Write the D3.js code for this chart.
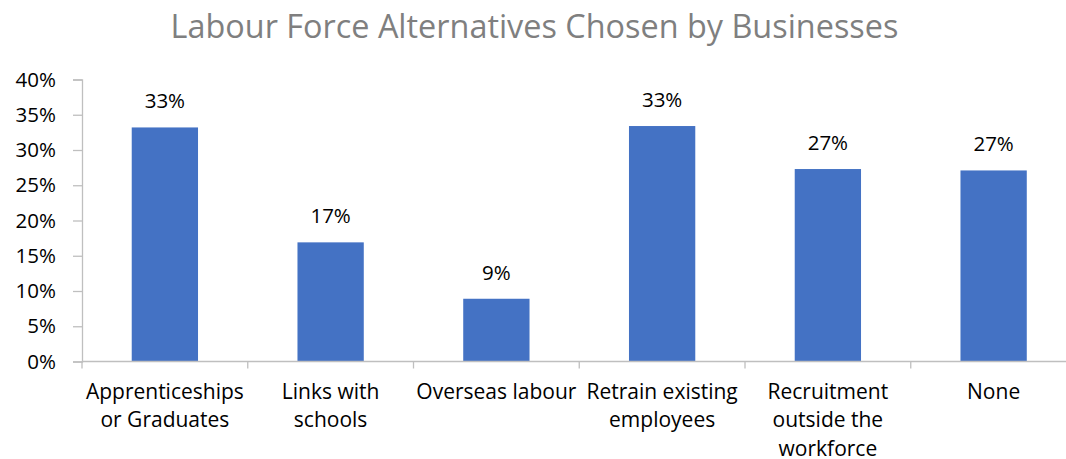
<!DOCTYPE html>
<html>
<head>
<meta charset="utf-8">
<script src="https://cdn.jsdelivr.net/npm/d3@7"></script>
<style>
  html, body { margin: 0; padding: 0; background: #fff; }
  svg { display: block; }
  text { font-family: "Open Sans", Lato, sans-serif; }
</style>
</head>
<body>
<svg id="chart" width="1066" height="459"></svg>
<script>
const categories = [
  ["Apprenticeships", "or Graduates"],
  ["Links with", "schools"],
  ["Overseas labour"],
  ["Retrain existing", "employees"],
  ["Recruitment", "outside the", "workforce"],
  ["None"]
];
const values = [33.2, 16.9, 8.9, 33.4, 27.3, 27.1];
const yTicks = [0, 5, 10, 15, 20, 25, 30, 35, 40];
const title = "Labour Force Alternatives Chosen by Businesses";

const svg = d3.select("#chart");
const plotLeft = 82, plotRight = 1076.5, plotTop = 79.5, plotBottom = 361.5;
const font = "'Open Sans', Lato, sans-serif";

const x = d3.scaleBand()
  .domain(d3.range(categories.length))
  .range([plotLeft, plotRight])
  .paddingInner(0.6)
  .paddingOuter(0.3);

const y = d3.scaleLinear().domain([0, 40]).range([plotBottom, plotTop]);

svg.append("text")
  .attr("x", 534.5).attr("y", 37.5)
  .attr("text-anchor", "middle")
  .attr("font-size", 32.4)
  .attr("fill", "#7f7f7f")
  .attr("font-weight", 400)
  .text(title);

// bars
svg.append("g").selectAll("rect")
  .data(values)
  .join("rect")
  .attr("x", (d, i) => x(i))
  .attr("width", x.bandwidth())
  .attr("y", d => y(d))
  .attr("height", d => y(0) - y(d))
  .attr("fill", "#4472c4");

// y axis
const yAxis = svg.append("g")
  .attr("transform", `translate(${plotLeft},0)`)
  .call(d3.axisLeft(y).tickValues(yTicks).tickSize(9).tickPadding(17).tickFormat(d => d + "%"));
yAxis.select(".domain").attr("stroke", "#bfbfbf").attr("stroke-width", 1.3);
yAxis.selectAll(".tick line").attr("stroke", "#bfbfbf").attr("stroke-width", 1.3);
yAxis.selectAll(".tick text").attr("font-size", 20.5).attr("fill", "#000")
  .attr("font-family", font);

// x axis
const xStep = x.step();
const boundaries = d3.range(categories.length + 1).map(i => plotLeft + i * xStep);
const xg = svg.append("g");
xg.append("line")
  .attr("x1", plotLeft).attr("x2", plotRight)
  .attr("y1", y(0)).attr("y2", y(0))
  .attr("stroke", "#bfbfbf").attr("stroke-width", 1.3);
xg.selectAll("line.tick")
  .data(boundaries)
  .join("line")
  .attr("class", "tick")
  .attr("x1", d => d).attr("x2", d => d)
  .attr("y1", y(0)).attr("y2", y(0) + 7)
  .attr("stroke", "#bfbfbf").attr("stroke-width", 1.3);

// category labels
const lab = svg.append("g").selectAll("text")
  .data(categories)
  .join("text")
  .attr("text-anchor", "middle")
  .attr("font-size", 21)
  .attr("fill", "#000");
lab.each(function(lines, i) {
  const t = d3.select(this);
  lines.forEach((ln, j) => {
    t.append("tspan")
      .attr("x", x(i) + x.bandwidth() / 2)
      .attr("y", 398.5 + j * 28.5)
      .text(ln);
  });
});

// data labels
svg.append("g").selectAll("text")
  .data(values)
  .join("text")
  .attr("x", (d, i) => x(i) + x.bandwidth() / 2)
  .attr("y", d => y(d) - 19)
  .attr("text-anchor", "middle")
  .attr("font-size", 20.5)
  .attr("fill", "#000")
  .text(d => Math.round(d) + "%");
</script>
</body>
</html>
